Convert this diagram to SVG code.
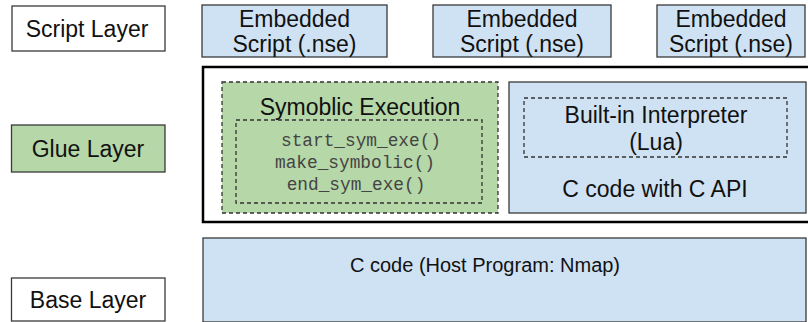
<svg xmlns="http://www.w3.org/2000/svg" width="808" height="322" viewBox="0 0 808 322">
<style>
.box{stroke:#3a3a3a;stroke-width:1.3}
.blue{fill:#cfe2f3}
.green{fill:#b6d7a8}
.white{fill:#ffffff}
.dash{fill:none;stroke:#333;stroke-width:1.3;stroke-dasharray:4,3}
.t{font-family:"Liberation Sans",Arial,sans-serif;font-size:23px;fill:#111;text-anchor:middle}
.m{font-family:"Liberation Mono","Courier New",monospace;font-size:17.8px;fill:#444;text-anchor:middle}
</style>
<rect width="808" height="322" fill="#fff"/>
<g id="script-layer">
<rect class="box white" x="12" y="6" width="153" height="45"/>
<text class="t" x="87" y="37">Script Layer</text>
</g>
<g id="glue-layer">
<rect class="box green" x="11.5" y="125" width="153.5" height="47"/>
<text class="t" x="88" y="156.5">Glue Layer</text>
</g>
<g id="base-layer">
<rect class="box white" x="11.5" y="278" width="153.5" height="43"/>
<text class="t" x="88" y="307.5">Base Layer</text>
</g>
<g id="embedded-1">
<rect class="box blue" x="202" y="5" width="185" height="52"/>
<text class="t" x="294.5" y="27">Embedded</text>
<text class="t" x="294.5" y="52">Script (.nse)</text>
</g>
<g id="embedded-2">
<rect class="box blue" x="433" y="5" width="178" height="52"/>
<text class="t" x="522" y="27">Embedded</text>
<text class="t" x="522" y="52">Script (.nse)</text>
</g>
<g id="embedded-3">
<rect class="box blue" x="657" y="5" width="148" height="52"/>
<text class="t" x="731" y="27">Embedded</text>
<text class="t" x="731" y="52">Script (.nse)</text>
</g>
<g id="glue-container">
<rect x="203" y="67" width="610" height="155" fill="none" stroke="#000" stroke-width="2.5"/>
</g>
<g id="symbolic-execution">
<rect x="222" y="82" width="276" height="131" fill="#b6d7a8" stroke="#333" stroke-width="1.3" stroke-dasharray="4,3"/>
<text class="t" x="360" y="115">Symoblic Execution</text>
<rect class="dash" x="236" y="120" width="246" height="83"/>
<text class="m" x="361" y="146">start_sym_exe()</text>
<text class="m" x="355" y="168">make_symbolic()</text>
<text class="m" x="356" y="190">end_sym_exe()</text>
</g>
<g id="c-api">
<rect class="box blue" x="509" y="82" width="297" height="131"/>
<rect class="dash" x="524" y="98" width="263" height="59"/>
<text class="t" x="656" y="123">Built-in Interpreter</text>
<text class="t" x="656" y="150">(Lua)</text>
<text class="t" x="655" y="197">C code with C API</text>
</g>
<g id="host-program">
<rect class="box blue" x="203" y="238" width="603" height="84"/>
<text class="t" x="485" y="272" style="font-size:20px">C code (Host Program: Nmap)</text>
</g>
<g id="connectors"></g>
</svg>
